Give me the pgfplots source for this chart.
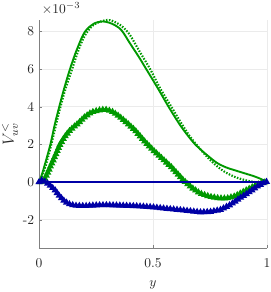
\documentclass[border=0pt]{standalone}
\usepackage{pgfplots}
\pgfplotsset{compat=1.18}
\usetikzlibrary{decorations.markings,shapes.geometric}
\definecolor{mgreen}{rgb}{0,0.6,0}
\definecolor{mblue}{rgb}{0,0,0.65}
\tikzset{tri/.style={postaction={decorate},
  decoration={markings, mark=between positions 0 and 1 step 2.5pt with {
  \node[isosceles triangle, isosceles triangle apex angle=60, shape border rotate=90, fill=#1, draw=none, inner sep=0pt, minimum height=4.6pt] {};}}}}
\begin{document}
\begin{tikzpicture}
\useasboundingbox (-28.9pt,-32.6pt) rectangle (171.2pt,183.8pt);
\begin{axis}[
  at={(0,0)}, anchor=south west,
  scale only axis, width=169pt, height=169pt,
  xmin=0, xmax=1, ymin=-3.5, ymax=8.6,
  axis x line*=bottom, axis y line*=left,
  xtick={0,0.5,1}, xticklabels={0,0.5,1},
  ytick={-2,0,2,4,6,8}, yticklabels={-2,0,2,4,6,8},
  grid=major, major grid style={draw=black!8, line width=0.4pt},
  tick align=inside, major tick length=2pt,
  tick style={black!50},
  axis line style={black!50, line width=0.5pt},
  ticklabel style={text=black!85},
  xticklabel style={yshift=-4.5pt},
  xlabel={$y$}, ylabel={$V_{uv}^{<}$},
  label style={text=black!85},
  xlabel style={at={(axis description cs:0.5,0)}, anchor=center, yshift=-27.5pt},
  ylabel style={at={(axis description cs:0,0.5)}, anchor=center, yshift=21.5pt, font=\large},
  clip=false,
]
% green solid
\addplot[mgreen, line width=1.4pt, smooth] coordinates {
(0,0) (0.01,0.3) (0.025,0.9) (0.05,2.0) (0.07,3.1) (0.09,4.05) (0.11,4.95)
(0.136,6.0) (0.165,7.0) (0.2,7.95) (0.24,8.4) (0.28,8.52) (0.32,8.4) (0.36,8.08)
(0.40,7.34) (0.44,6.6) (0.47,6.0) (0.52,5.0) (0.568,4.0) (0.62,3.0) (0.67,2.2)
(0.70,1.82) (0.74,1.4) (0.78,1.02) (0.82,0.78) (0.86,0.62) (0.9,0.47) (0.94,0.32) (0.97,0.18) (1.0,0)};
% green dotted
\addplot[mgreen, line width=1.6pt, dash pattern=on 1.1pt off 1.1pt, smooth] coordinates {
(0,0) (0.01,0.2) (0.03,0.9) (0.05,1.8) (0.07,2.8) (0.09,3.8) (0.115,4.9)
(0.14,5.8) (0.17,6.9) (0.2,7.75) (0.24,8.35) (0.3,8.6) (0.34,8.45) (0.37,8.2)
(0.40,7.78) (0.44,6.95) (0.487,6.0) (0.53,5.0) (0.58,4.0) (0.62,3.2) (0.66,2.45)
(0.70,1.85) (0.74,1.3) (0.78,0.85) (0.82,0.5) (0.87,0.22) (0.93,0.03) (0.97,-0.03) (1.0,0)};
% green triangles
\addplot[mgreen, line width=1.8pt, tri=mgreen] coordinates {
(0.005,0) (0.02,0.02) (0.04,0.55) (0.06,1.1) (0.08,1.65) (0.092,2.0) (0.11,2.35)
(0.129,2.66) (0.15,2.9) (0.172,3.12) (0.2,3.45) (0.23,3.7) (0.26,3.8) (0.29,3.85)
(0.32,3.75) (0.35,3.5) (0.38,3.2) (0.421,2.75) (0.46,2.2) (0.50,1.7) (0.54,1.25)
(0.58,0.8) (0.633,0.1) (0.67,-0.3) (0.706,-0.6) (0.75,-0.78) (0.79,-0.86) (0.823,-0.87)
(0.86,-0.75) (0.911,-0.42) (0.95,-0.18) (0.98,-0.03) (1.0,0)};
% blue solid
\addplot[mblue, line width=1.2pt] coordinates {(0,0) (1,0)};
% blue triangles
\addplot[mblue, line width=1.8pt, tri=mblue] coordinates {
(0,0) (0.012,0.1) (0.03,0.0) (0.05,-0.2) (0.07,-0.42) (0.09,-0.75) (0.114,-1.04)
(0.135,-1.18) (0.158,-1.25) (0.2,-1.27) (0.25,-1.23) (0.3,-1.22) (0.35,-1.24)
(0.42,-1.27) (0.487,-1.32) (0.55,-1.4) (0.633,-1.5) (0.706,-1.6) (0.75,-1.58)
(0.794,-1.48) (0.84,-1.2) (0.88,-0.86) (0.92,-0.55) (0.955,-0.25) (0.98,-0.08) (1.0,0.03)};
\node[anchor=south west, inner sep=0pt, text=black!85] at ([xshift=2pt,yshift=4pt]rel axis cs:0,1) {$\times 10^{-3}$};
\end{axis}
\end{tikzpicture}
\end{document}
